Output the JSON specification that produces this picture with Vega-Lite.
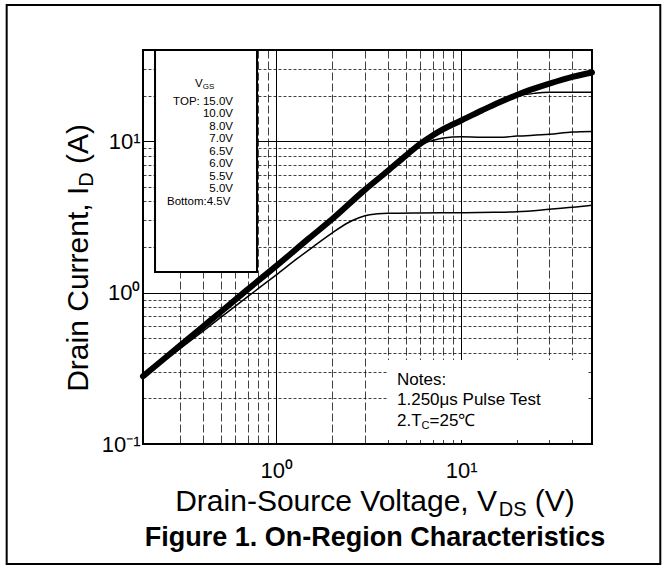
{
  "$schema": "https://vega.github.io/schema/vega-lite/v6.json",
  "width": 449,
  "height": 394,
  "autosize": "none",
  "padding": {"left": 143, "top": 50, "right": 75, "bottom": 125},
  "background": "white",
  "config": {
    "view": {"stroke": "black", "strokeWidth": 2},
    "text": {"font": "Liberation Sans", "color": "black"}
  },
  "datasets": {
    "curves": [
      {"vgs": "15.0V", "vds": 0.19, "id": 0.28},
      {"vgs": "15.0V", "vds": 0.22, "id": 0.325},
      {"vgs": "15.0V", "vds": 0.25, "id": 0.37},
      {"vgs": "15.0V", "vds": 0.3, "id": 0.445},
      {"vgs": "15.0V", "vds": 0.4, "id": 0.595},
      {"vgs": "15.0V", "vds": 0.5, "id": 0.745},
      {"vgs": "15.0V", "vds": 0.7, "id": 1.05},
      {"vgs": "15.0V", "vds": 1.0, "id": 1.5},
      {"vgs": "15.0V", "vds": 1.5, "id": 2.28},
      {"vgs": "15.0V", "vds": 2.0, "id": 3.05},
      {"vgs": "15.0V", "vds": 3.0, "id": 4.75},
      {"vgs": "15.0V", "vds": 4.0, "id": 6.35},
      {"vgs": "15.0V", "vds": 5.0, "id": 8.0},
      {"vgs": "15.0V", "vds": 6.0, "id": 9.6},
      {"vgs": "15.0V", "vds": 7.0, "id": 10.9},
      {"vgs": "15.0V", "vds": 8.0, "id": 12.0},
      {"vgs": "15.0V", "vds": 10, "id": 13.7},
      {"vgs": "15.0V", "vds": 13, "id": 16.0},
      {"vgs": "15.0V", "vds": 16, "id": 18.0},
      {"vgs": "15.0V", "vds": 20, "id": 20.2},
      {"vgs": "15.0V", "vds": 25, "id": 22.3},
      {"vgs": "15.0V", "vds": 30, "id": 24.0},
      {"vgs": "15.0V", "vds": 40, "id": 26.6},
      {"vgs": "15.0V", "vds": 51, "id": 28.4},

      {"vgs": "5.5V", "vds": 0.19, "id": 0.28},
      {"vgs": "5.5V", "vds": 0.3, "id": 0.445},
      {"vgs": "5.5V", "vds": 0.5, "id": 0.745},
      {"vgs": "5.5V", "vds": 0.7, "id": 1.05},
      {"vgs": "5.5V", "vds": 1.0, "id": 1.5},
      {"vgs": "5.5V", "vds": 1.5, "id": 2.28},
      {"vgs": "5.5V", "vds": 2.0, "id": 3.05},
      {"vgs": "5.5V", "vds": 3.0, "id": 4.75},
      {"vgs": "5.5V", "vds": 4.0, "id": 6.35},
      {"vgs": "5.5V", "vds": 5.0, "id": 8.0},
      {"vgs": "5.5V", "vds": 6.0, "id": 9.6},
      {"vgs": "5.5V", "vds": 7.0, "id": 10.9},
      {"vgs": "5.5V", "vds": 8.0, "id": 12.0},
      {"vgs": "5.5V", "vds": 10, "id": 13.7},
      {"vgs": "5.5V", "vds": 13, "id": 15.9},
      {"vgs": "5.5V", "vds": 16, "id": 17.8},
      {"vgs": "5.5V", "vds": 20, "id": 19.8},
      {"vgs": "5.5V", "vds": 25, "id": 20.7},
      {"vgs": "5.5V", "vds": 30, "id": 21.0},
      {"vgs": "5.5V", "vds": 40, "id": 21.0},
      {"vgs": "5.5V", "vds": 51, "id": 21.0},

      {"vgs": "5.0V", "vds": 0.19, "id": 0.28},
      {"vgs": "5.0V", "vds": 0.3, "id": 0.445},
      {"vgs": "5.0V", "vds": 0.5, "id": 0.745},
      {"vgs": "5.0V", "vds": 0.7, "id": 1.05},
      {"vgs": "5.0V", "vds": 1.0, "id": 1.5},
      {"vgs": "5.0V", "vds": 1.5, "id": 2.28},
      {"vgs": "5.0V", "vds": 2.0, "id": 3.05},
      {"vgs": "5.0V", "vds": 3.0, "id": 4.75},
      {"vgs": "5.0V", "vds": 4.0, "id": 6.3},
      {"vgs": "5.0V", "vds": 5.0, "id": 7.9},
      {"vgs": "5.0V", "vds": 6.0, "id": 9.4},
      {"vgs": "5.0V", "vds": 7.0, "id": 10.1},
      {"vgs": "5.0V", "vds": 8.0, "id": 10.5},
      {"vgs": "5.0V", "vds": 10, "id": 10.7},
      {"vgs": "5.0V", "vds": 13, "id": 10.6},
      {"vgs": "5.0V", "vds": 16, "id": 10.6},
      {"vgs": "5.0V", "vds": 20, "id": 10.8},
      {"vgs": "5.0V", "vds": 30, "id": 11.1},
      {"vgs": "5.0V", "vds": 40, "id": 11.5},
      {"vgs": "5.0V", "vds": 51, "id": 11.6},

      {"vgs": "4.5V", "vds": 0.19, "id": 0.28},
      {"vgs": "4.5V", "vds": 0.25, "id": 0.36},
      {"vgs": "4.5V", "vds": 0.3, "id": 0.425},
      {"vgs": "4.5V", "vds": 0.4, "id": 0.555},
      {"vgs": "4.5V", "vds": 0.5, "id": 0.685},
      {"vgs": "4.5V", "vds": 0.7, "id": 0.94},
      {"vgs": "4.5V", "vds": 1.0, "id": 1.31},
      {"vgs": "4.5V", "vds": 1.3, "id": 1.68},
      {"vgs": "4.5V", "vds": 1.6, "id": 2.03},
      {"vgs": "4.5V", "vds": 2.0, "id": 2.47},
      {"vgs": "4.5V", "vds": 2.4, "id": 2.86},
      {"vgs": "4.5V", "vds": 2.8, "id": 3.12},
      {"vgs": "4.5V", "vds": 3.2, "id": 3.27},
      {"vgs": "4.5V", "vds": 4.0, "id": 3.34},
      {"vgs": "4.5V", "vds": 6.0, "id": 3.36},
      {"vgs": "4.5V", "vds": 10, "id": 3.37},
      {"vgs": "4.5V", "vds": 15, "id": 3.39},
      {"vgs": "4.5V", "vds": 20, "id": 3.42},
      {"vgs": "4.5V", "vds": 30, "id": 3.55},
      {"vgs": "4.5V", "vds": 40, "id": 3.66},
      {"vgs": "4.5V", "vds": 51, "id": 3.78}
    ]
  },
  "layer": [
    {
      "data": {"name": "curves"},
      "mark": {"type": "line", "color": "black", "interpolate": "monotone", "strokeCap": "round", "strokeJoin": "round"},
      "encoding": {
        "x": {
          "field": "vds", "type": "quantitative",
          "scale": {"type": "log", "domain": [0.19, 51], "nice": false},
          "axis": {
            "title": null,
            "values": [0.3, 0.4, 0.5, 0.6, 0.7, 0.8, 0.9, 1, 2, 3, 4, 5, 6, 7, 8, 9, 10, 20, 30, 40],
            "labelExpr": "datum.value == 1 ? '10⁰' : datum.value == 10 ? '10¹' : ''",
            "labelOverlap": false, "labelFlush": false,
            "labelFont": "Liberation Sans", "labelFontSize": 22, "labelColor": "black", "labelPadding": 16,
            "ticks": false, "domain": false,
            "grid": true, "gridColor": "black", "gridWidth": 1,
            "gridDash": {"condition": {"test": "datum.value == 1 || datum.value == 10", "value": []}, "value": [8, 3]},
            "gridOpacity": {"condition": {"test": "datum.value == 1 || datum.value == 10", "value": 1}, "value": 0.75}
          }
        },
        "y": {
          "field": "id", "type": "quantitative",
          "scale": {"type": "log", "domain": [0.1, 40], "nice": false},
          "axis": {
            "title": null,
            "values": [0.1, 0.2, 0.3, 0.4, 0.5, 0.6, 0.7, 0.8, 0.9, 1, 2, 3, 4, 5, 6, 7, 8, 9, 10, 20, 30],
            "labelExpr": "datum.value == 0.1 ? '10⁻¹' : datum.value == 1 ? '10⁰' : datum.value == 10 ? '10¹' : ''",
            "labelOverlap": false, "labelFlush": false,
            "labelFont": "Liberation Sans", "labelFontSize": 22, "labelColor": "black", "labelPadding": 3,
            "ticks": false, "domain": false,
            "grid": true, "gridColor": "black", "gridWidth": 1,
            "gridDash": {"condition": {"test": "datum.value == 1 || datum.value == 10 || datum.value == 0.1", "value": []}, "value": [3, 2]},
            "gridOpacity": {"condition": {"test": "datum.value == 1 || datum.value == 10", "value": 1}, "value": 0.75}
          }
        },
        "detail": {"field": "vgs", "type": "nominal"},
        "strokeWidth": {"condition": {"test": "datum.vgs == '15.0V'", "value": 6}, "value": 1.5}
      }
    },
    {
      "data": {"values": [{}]},
      "mark": {"type": "rect", "fill": "white", "stroke": "black", "strokeWidth": 2},
      "encoding": {
        "x": {"datum": 0.2207, "type": "quantitative"},
        "x2": {"datum": 0.7859},
        "y": {"datum": 40, "type": "quantitative"},
        "y2": {"datum": 1.3675}
      }
    },
    {
      "data": {"values": [{}]},
      "mark": {"type": "rect", "fill": "white", "strokeWidth": 0},
      "encoding": {
        "x": {"datum": 4.019, "type": "quantitative"},
        "x2": {"datum": 47.93},
        "y": {"datum": 0.3587, "type": "quantitative"},
        "y2": {"datum": 0.1063}
      }
    },
    {
      "data": {"values": [{}]},
      "mark": {"type": "rect", "fill": "transparent", "stroke": "black", "strokeWidth": 2, "clip": false},
      "encoding": {
        "x": {"datum": 0.03478, "type": "quantitative"},
        "x2": {"datum": 119.4},
        "y": {"datum": 79.35, "type": "quantitative"},
        "y2": {"datum": 0.01612}
      }
    },
    {
      "data": {"values": [{}]},
      "mark": {"type": "text", "text": "V", "fontSize": 11.5, "align": "left", "baseline": "alphabetic"},
      "encoding": {"x": {"datum": 0.3631, "type": "quantitative"}, "y": {"datum": 22.79, "type": "quantitative"}}
    },
    {
      "data": {"values": [{}]},
      "mark": {"type": "text", "text": "GS", "fontSize": 8, "align": "left", "baseline": "alphabetic", "dx": 7.7, "dy": 2},
      "encoding": {"x": {"datum": 0.3631, "type": "quantitative"}, "y": {"datum": 22.79, "type": "quantitative"}}
    },
    {
      "data": {"values": [{}]},
      "mark": {"type": "text", "text": ["TOP: 15.0V", "10.0V", "8.0V", "7.0V", "6.5V", "6.0V", "5.5V", "5.0V"], "fontSize": 11.5, "lineHeight": 12.5, "align": "right", "baseline": "top"},
      "encoding": {"x": {"datum": 0.583, "type": "quantitative"}, "y": {"datum": 19.9, "type": "quantitative"}}
    },
    {
      "data": {"values": [{}]},
      "mark": {"type": "text", "text": "Bottom:4.5V", "fontSize": 11.5, "align": "left", "baseline": "alphabetic"},
      "encoding": {"x": {"datum": 0.2563, "type": "quantitative"}, "y": {"datum": 3.788, "type": "quantitative"}}
    },
    {
      "data": {"values": [{}]},
      "mark": {"type": "text", "text": ["Notes:", "1.250μs Pulse Test"], "fontSize": 17, "lineHeight": 20.5, "align": "left", "baseline": "top"},
      "encoding": {"x": {"datum": 4.495, "type": "quantitative"}, "y": {"datum": 0.3008, "type": "quantitative"}}
    },
    {
      "data": {"values": [{}]},
      "mark": {"type": "text", "text": "2.T", "fontSize": 17, "align": "left", "baseline": "alphabetic"},
      "encoding": {"x": {"datum": 4.495, "type": "quantitative"}, "y": {"datum": 0.1315, "type": "quantitative"}}
    },
    {
      "data": {"values": [{}]},
      "mark": {"type": "text", "text": "C", "fontSize": 11, "align": "left", "baseline": "alphabetic", "dx": 24.6, "dy": 3},
      "encoding": {"x": {"datum": 4.495, "type": "quantitative"}, "y": {"datum": 0.1315, "type": "quantitative"}}
    },
    {
      "data": {"values": [{}]},
      "mark": {"type": "text", "text": "=25℃", "fontSize": 17, "align": "left", "baseline": "alphabetic", "dx": 32.5},
      "encoding": {"x": {"datum": 4.495, "type": "quantitative"}, "y": {"datum": 0.1315, "type": "quantitative"}}
    },
    {
      "data": {"values": [{}]},
      "mark": {"type": "text", "text": "Drain Current, I", "fontSize": 30, "angle": 270, "align": "left", "baseline": "alphabetic", "dx": -133.8},
      "encoding": {"x": {"datum": 0.0958, "type": "quantitative"}, "y": {"datum": 1.692, "type": "quantitative"}}
    },
    {
      "data": {"values": [{}]},
      "mark": {"type": "text", "text": "D", "fontSize": 20, "angle": 270, "align": "left", "baseline": "alphabetic", "dx": 71.2, "dy": 5},
      "encoding": {"x": {"datum": 0.0958, "type": "quantitative"}, "y": {"datum": 1.692, "type": "quantitative"}}
    },
    {
      "data": {"values": [{}]},
      "mark": {"type": "text", "text": "(A)", "fontSize": 30, "angle": 270, "align": "left", "baseline": "alphabetic", "dx": 93.9},
      "encoding": {"x": {"datum": 0.0958, "type": "quantitative"}, "y": {"datum": 1.692, "type": "quantitative"}}
    },
    {
      "data": {"values": [{}]},
      "mark": {"type": "text", "text": "Drain-Source Voltage, V", "fontSize": 30, "align": "left", "baseline": "alphabetic", "dx": -199.8},
      "encoding": {"x": {"datum": 3.418, "type": "quantitative"}, "y": {"datum": 0.0361, "type": "quantitative"}}
    },
    {
      "data": {"values": [{}]},
      "mark": {"type": "text", "text": "DS", "fontSize": 20, "align": "left", "baseline": "alphabetic", "dx": 123.7, "dy": 5},
      "encoding": {"x": {"datum": 3.418, "type": "quantitative"}, "y": {"datum": 0.0361, "type": "quantitative"}}
    },
    {
      "data": {"values": [{}]},
      "mark": {"type": "text", "text": "(V)", "fontSize": 30, "align": "left", "baseline": "alphabetic", "dx": 159.8},
      "encoding": {"x": {"datum": 3.418, "type": "quantitative"}, "y": {"datum": 0.0361, "type": "quantitative"}}
    },
    {
      "data": {"values": [{}]},
      "mark": {"type": "text", "text": "Figure 1. On-Region Characteristics", "fontSize": 27, "fontWeight": "bold", "align": "center", "baseline": "alphabetic"},
      "encoding": {"x": {"datum": 3.418, "type": "quantitative"}, "y": {"datum": 0.0212, "type": "quantitative"}}
    }
  ]
}
